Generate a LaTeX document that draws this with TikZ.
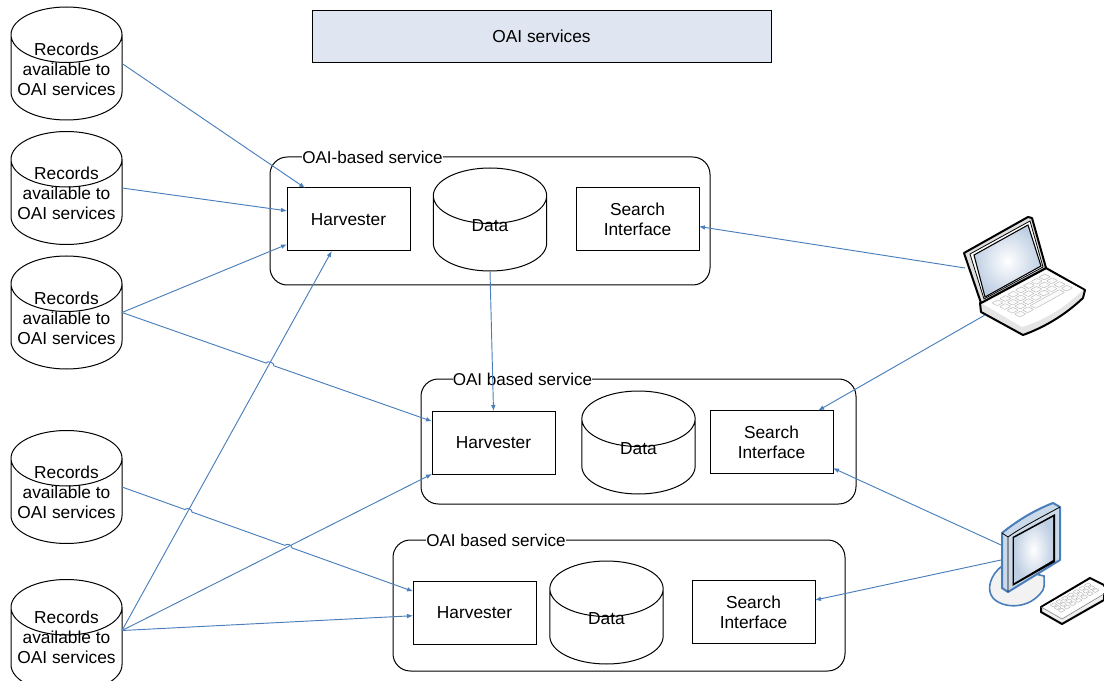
\documentclass[tikz,border=0pt]{standalone}
\usepackage{fontspec}
\setmainfont{Liberation Sans}
\usetikzlibrary{shapes.geometric,arrows.meta,calc}
\definecolor{linkblue}{HTML}{4A7EBB}
\definecolor{topfill}{HTML}{DFE6F1}
\definecolor{scrn}{HTML}{BFCFE3}
\tikzset{
	txt/.style={font=\fontsize{13}{15}\selectfont, align=center},
	tank/.style={draw=black, line width=.75pt, cylinder, shape border rotate=90, shape aspect=.5, inner sep=0pt, outer sep=0pt, anchor=shape center},
	records/.style={tank, minimum width=83.25pt, minimum height=84.75pt, label={[txt, yshift=#1]center:{Records\\available to\\OAI services}}},
	records/.default=6.5pt,
	store/.style={tank, minimum width=85pt, minimum height=77.25pt, label={[txt, yshift=6pt]center:{Data}}},
	unit/.style={txt, draw=black, line width=.75pt, minimum width=92.25pt, minimum height=47.25pt, inner sep=0pt, outer sep=0pt},
	service/.style={draw=black, line width=.75pt, rounded corners=13pt, inner sep=0pt, outer sep=0pt},
	caption/.style={font=\fontsize{12.8}{15}\selectfont, fill=white, inner sep=0pt, minimum height=10pt},
	link/.style={draw=linkblue, line width=.7pt, -{Latex[length=4.5pt,width=3.5pt]}},
	key/.style={fill=black!2, draw=black!30, line width=.3pt, rounded corners=.4pt}
}
\newcommand{\tankstrut}{\rule{83.25pt}{0pt}}
\begin{document}
\begin{tikzpicture}[x=.75pt, y=.75pt]
\useasboundingbox (0,0) rectangle (1104,-681);
% header
\node[txt, draw=black, line width=.75pt, fill=topfill, minimum width=344.25pt, minimum height=39pt, inner sep=0pt] (oai) at (541.5,-36.5) {OAI services};
% record stores
\node[records] (r1) at (66.5,-63.5) {\tankstrut};
\node[records] (r2) at (66.5,-188) {\tankstrut};
\node[records] (r3) at (66.5,-312.5) {\tankstrut};
\node[records] (r4) at (66.5,-487) {\tankstrut};
\node[records=9.5pt] (r5) at (66.5,-636) {\tankstrut};
\foreach \r in {r1,r2,r3,r4}
	\coordinate (\r out) at (\r.east |- \r.shape center);
\coordinate (r5out) at ($(r5.east |- r5.shape center)+(0,5.5)$);
% services
\node[service, minimum width=330pt, minimum height=96pt] (svc1) at (490,-221) {};
\node[service, minimum width=326.25pt, minimum height=93.75pt] (svc2) at (638.5,-441.5) {};
\node[service, minimum width=339pt, minimum height=98.25pt] (svc3) at (619,-605.5) {};
\node[caption] (cap1) at (372.5,-157) {OAI-based service};
\node[caption] (cap2) at (522.5,-379) {OAI based service};
\node[caption] (cap3) at (496,-540) {OAI based service};
% first service
\node[unit] (h1) at (348.5,-219.5) {Harvester};
\node[store] (d1) at (490,-219.5) {\tankstrut};
\node[unit] (s1) at (637.5,-219) {Search\\Interface};
% second service
\node[unit] (h2) at (493.5,-442.5) {Harvester};
\node[store] (d2) at (638.5,-442.5) {\tankstrut};
\node[unit] (s2) at (771.5,-442) {Search\\Interface};
% third service
\node[unit] (h3) at (474.5,-612.5) {Harvester};
\node[store] (d3) at (606.5,-612.5) {\tankstrut};
\node[unit] (s3) at (753.5,-612) {Search\\Interface};
% laptop
\coordinate (lap1) at (965,-268);
\coordinate (lap2) at (985,-315);
\draw[black, line width=1.5pt, line join=round, fill=black!10] (980,-303) -- (1046,-268) -- (1085,-290) -- (1083,-298) .. controls (1065,-315) and (1045,-327) .. (1023,-335) -- (981,-312) -- cycle;
\fill[white] (983,-304) -- (1046,-270) -- (1083,-290) .. controls (1065,-307) and (1045,-320) .. (1022,-327) -- cycle;
\foreach \i in {0,...,6}
	\foreach \j in {0,...,2}
		\draw[key] ({992+7.8*\i+7.5*\j},{-303+4.3*\i-3.75*\j}) -- ++(5.8,3.2) -- ++(5.5,-2.75) -- ++(-5.8,-3.2) -- cycle;
\foreach \i in {0,1,6}
	\draw[key] ({992+7.8*\i+22.5},{-303+4.3*\i-11.25}) -- ++(5.8,3.2) -- ++(5.5,-2.75) -- ++(-5.8,-3.2) -- cycle;
\draw[key] ({992+15.6+22.5},{-303+8.6-11.25}) -- ++(29,16) -- ++(5.5,-2.75) -- ++(-29,-16) -- cycle;
\draw[black, line width=1.5pt, line join=round, fill=black!12] (964,-253) -- (1028,-217) -- (1032,-218) -- (1046,-268) -- (981,-303) -- cycle;
\draw[black, line width=.6pt, fill=white] (970,-254) -- (1030,-221) -- (1043,-267) -- (984,-299) -- cycle;
\shade[draw=black, line width=.8pt, inner color=white, outer color=scrn] (974,-255) -- (1028,-225) -- (1041,-266) -- (985,-297) -- cycle;
% monitor
\coordinate (mon1) at (1001,-545);
\coordinate (mon2) at (1001,-560);
\draw[linkblue, line width=1.2pt, fill=black!5] (1002,-566) .. controls (990,-575) and (986,-590) .. (993,-598) .. controls (1003,-609) and (1030,-610) .. (1043,-590) .. controls (1045,-585) and (1044,-580) .. (1044,-576) -- cycle;
\draw[linkblue, line width=1.5pt, line join=round, fill=scrn!80] (1002,-533) .. controls (1018,-520) and (1035,-510) .. (1053,-503) -- (1060,-507) -- (1060,-560) -- (1008,-592) -- (1002,-588) -- cycle;
\draw[black, line width=.6pt] (1002,-533) -- (1008,-537) -- (1008,-592) (1008,-537) .. controls (1022,-527) and (1040,-518) .. (1060,-507);
\fill[black] (1012.5,-537) -- (1055,-514) -- (1055,-562) -- (1012.5,-586) -- cycle;
\shade[inner color=white, outer color=scrn] (1014,-538) -- (1053,-517) -- (1053,-560) -- (1014,-583) -- cycle;
% keyboard
\draw[black, line width=1.5pt, line join=round, fill=black!6] (1041,-607) -- (1090,-578) -- (1104,-585) -- (1104,-600) -- (1062,-624) -- (1041,-612) -- cycle;
\fill[white] (1043,-607) -- (1090,-580) -- (1104,-587) -- (1104,-593) -- (1062,-618) -- cycle;
\draw[black!50, line width=.4pt] (1041,-607) -- (1062,-619) -- (1104,-594);
\foreach \i in {0,...,6}
	\foreach \j in {0,...,2}
		\draw[key] ({1050+5.7*\i+4*\j},{-605+3.3*\i-2.7*\j}) -- ++(4,2.3) -- ++(3,-2) -- ++(-4,-2.3) -- cycle;
% connectors
\draw[link] (r1out) -- (h1.144);
\draw[link] (r2out) -- (h1.172);
\draw[link] (r3out) -- (h1.202.5);
\draw[link] (r3out) -- ($(r3out)!.4645!(h2.161.6)$) to[bend left=80] ($(r3out)!.49!(h2.161.6)$) -- (h2.161.6);
\draw[link] (r4out) -- ($(r4out)!.2165!(h3.161.6)$) to[bend left=80] ($(r4out)!.2405!(h3.161.6)$) -- ($(r4out)!.56!(h3.161.6)$) to[bend left=80] ($(r4out)!.584!(h3.161.6)$) -- (h3.161.6);
\draw[link] (r5out) -- (h1.242);
\draw[link] (r5out) -- (h2.south west);
\draw[link] (r5out) -- (h3.183);
\draw[link] (d1.south) -- (h2.north);
\draw[link] (lap1) -- (s1.-7.9);
\draw[link] (lap2) -- (s2.34);
\draw[link] (mon1) -- (s2.-23.3);
\draw[link] (mon2) -- (s3.11.5);
\end{tikzpicture}
\end{document}
